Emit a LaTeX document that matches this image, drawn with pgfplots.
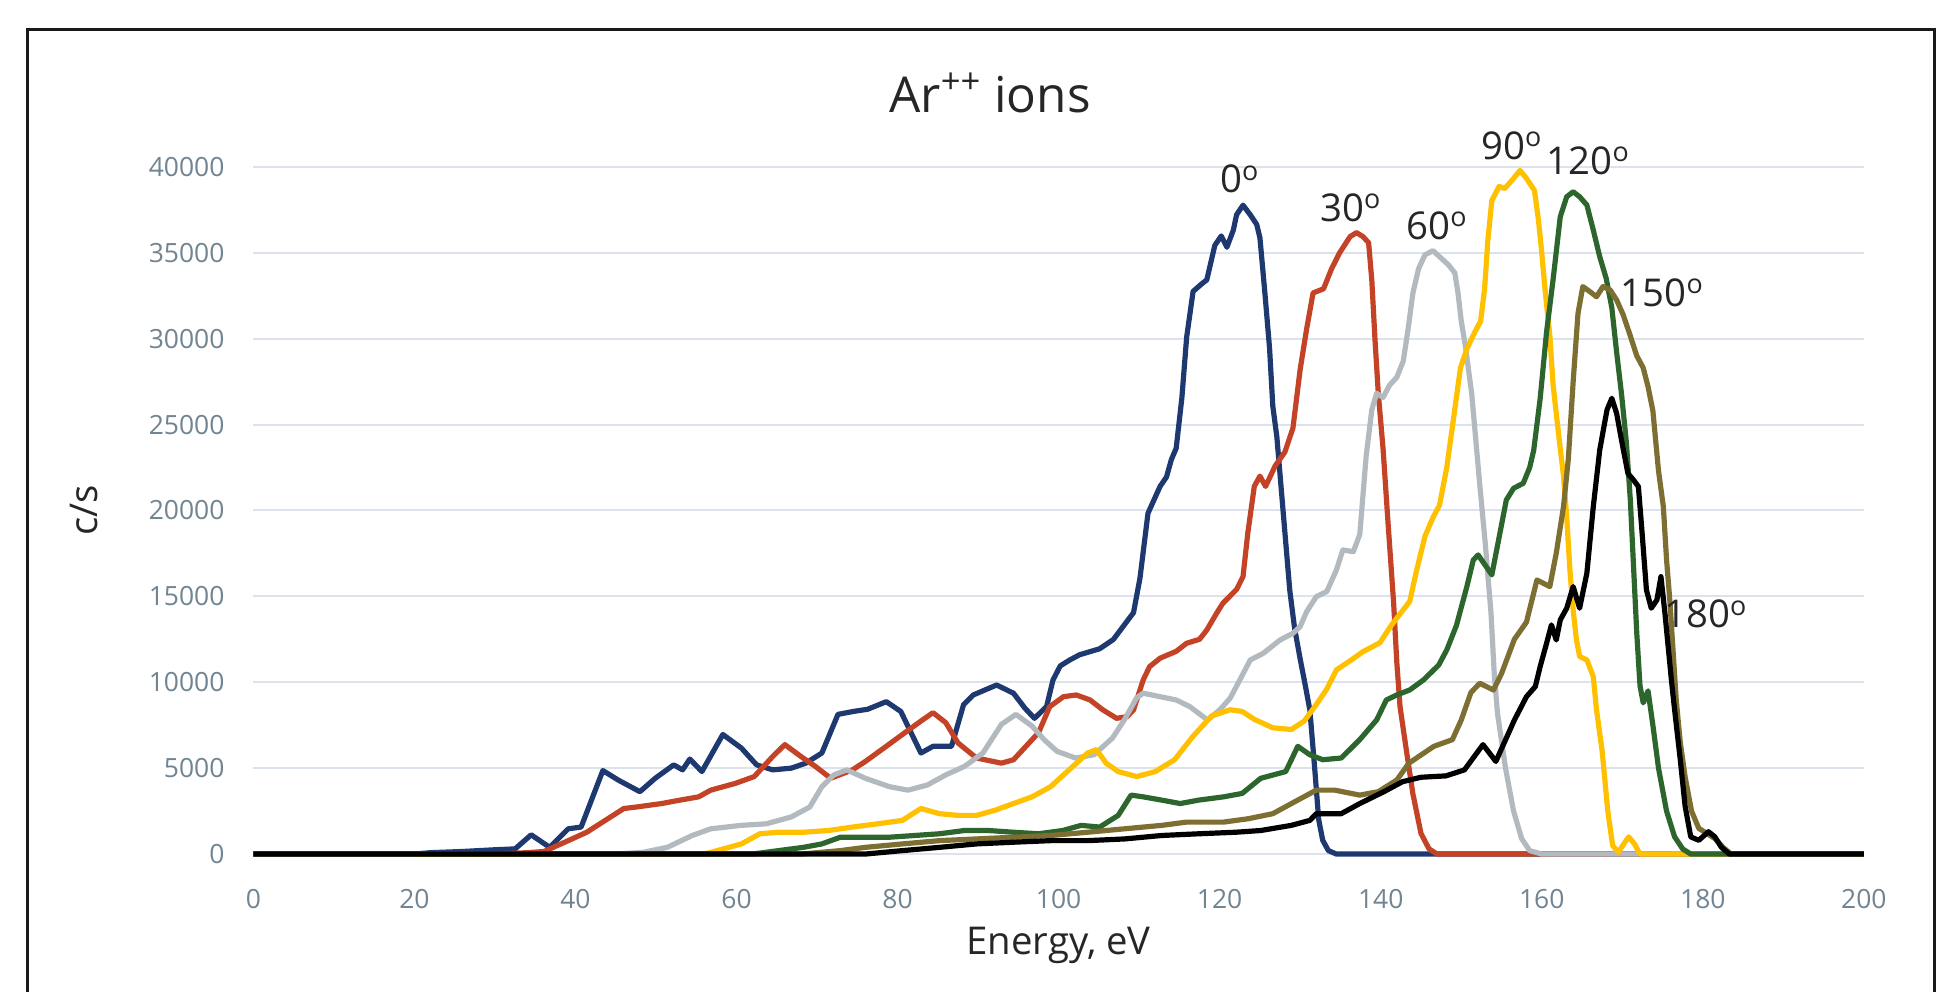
\documentclass[border=0pt]{standalone}
\usepackage{fontspec}
\setmainfont{Open Sans}
\usepackage{pgfplots}
\pgfplotsset{compat=1.18}
\definecolor{cblue}{RGB}{30,56,112}
\definecolor{cred}{RGB}{196,66,38}
\definecolor{cgray}{RGB}{178,186,192}
\definecolor{cyellow}{RGB}{255,192,0}
\definecolor{cgreen}{RGB}{45,102,45}
\definecolor{colive}{RGB}{125,110,50}
\definecolor{gridc}{RGB}{220,227,236}
\definecolor{tickc}{RGB}{112,132,146}
\definecolor{txtc}{RGB}{38,38,38}
\begin{document}
\begin{tikzpicture}[x=1pt,y=1pt]
\useasboundingbox (-102.5,-55.5) rectangle (681.5,345.5);
\fill[white] (-102.5,-55.5) rectangle (681.5,345.5);
\draw[line width=1.2pt, black!90] (-91.2,-60) -- (-91.2,333.7) -- (680,333.7) -- (680,-60);
\node[font=\fontsize{20}{24}\selectfont, text=txtc] at (298,308) {Ar\textsuperscript{++} ions};
\begin{axis}[
  at={(0,0)}, anchor=south west,
  width=651.5pt, height=278pt, scale only axis,
  xmin=0, xmax=200, ymin=0, ymax=40000,
  xtick={0,20,...,200}, ytick={0,5000,...,40000},
  scaled y ticks=false,
  axis line style={draw=none},
  major tick length=0pt,
  ymajorgrids, grid style={color=gridc, line width=0.8pt},
  /pgf/number format/assume math mode=true,
  /pgf/number format/1000 sep={},
  tick label style={font=\fontsize{10.7}{12}\selectfont, text=tickc, inner sep=0pt},
  yticklabel style={anchor=east, xshift=-11.5pt},
  xticklabel style={anchor=north, yshift=-14pt},
  xlabel={Energy, eV},
  xlabel style={font=\fontsize{15.5}{18}\selectfont, text=txtc, at={(axis description cs:0.5,0)}, anchor=center, yshift=-37pt},
  clip=false,
  every axis plot/.append style={line width=2.1pt, line join=round, mark=none},
]
% 0 deg
\addplot[cblue] coordinates {(0,0) (20,0) (22,80) (26,150) (30,250) (32.5,300) (34.5,1120) (36.8,390) (39.1,1470) (40.7,1570) (43.4,4860) (45.3,4310) (48.0,3630) (49.9,4410) (52.2,5190) (53.3,4900) (54.2,5530) (55.7,4800) (58.3,6960) (60.6,6170) (62.5,5190) (64.5,4900) (66.8,5000) (68.6,5290) (70.6,5880) (72.6,8130) (74.5,8300) (76.3,8430) (78.6,8870) (80.4,8300) (82.9,5880) (84.4,6270) (86.7,6270) (88.2,8700) (89.4,9260) (92.3,9840) (94.4,9360) (95.8,8500) (97.0,7900) (98.5,8580) (99.3,10130) (100.2,10950) (101.4,11300) (102.6,11600) (105.1,11950) (106.8,12490) (108.4,13490) (109.3,14050) (110.1,16050) (111.1,19840) (112.6,21400) (113.4,21950) (114.0,22960) (114.6,23620) (115.3,26520) (115.9,30080) (116.7,32750) (117.8,33200) (118.4,33420) (119.4,35430) (120.2,35980) (120.9,35320) (121.7,36320) (122.1,37210) (122.9,37770) (123.8,37210) (124.6,36650) (125.0,35870) (125.6,32750) (126.2,29420) (126.6,26070) (127.1,24290) (127.5,22070) (128.1,18730) (128.7,15380) (129.3,13160) (130.0,11350) (130.6,9900) (131.2,8390) (131.8,5000) (132.3,2000) (132.8,800) (133.5,200) (134.5,0) (200,0)};
% 30 deg
\addplot[cred] coordinates {(0,0) (30,0) (34,80) (36.1,150) (39.1,780) (41.4,1270) (43.7,1960) (46.0,2650) (47.6,2740) (50.7,2940) (53.0,3140) (55.3,3330) (56.8,3720) (59.9,4120) (62.2,4510) (64.5,5680) (66.0,6370) (68.0,5680) (69.8,5100) (71.7,4410) (74.4,4900) (76.0,5390) (78.3,6170) (80.6,6960) (82.9,7740) (84.4,8230) (86.0,7640) (87.5,6470) (89.8,5590) (92.9,5290) (94.4,5490) (97.5,7060) (98.9,8580) (100.6,9160) (102.2,9260) (103.9,8970) (105.5,8390) (107.2,7900) (108.5,8000) (109.3,8390) (110.5,10130) (111.3,10910) (112.6,11400) (114.6,11800) (115.9,12270) (117.5,12500) (118.4,13040) (119.6,14000) (120.4,14600) (122.1,15400) (122.9,16150) (123.5,18700) (124.3,21400) (125.0,22000) (125.7,21400) (126.9,22600) (128.1,23400) (129.1,24800) (130.0,28220) (130.8,30560) (131.6,32660) (132.9,32900) (133.9,34070) (134.9,35000) (136.2,35940) (137.0,36170) (137.8,35940) (138.5,35580) (138.9,33360) (139.3,29860) (139.7,26820) (140.3,23550) (140.9,19340) (141.6,14660) (142.0,11150) (142.4,8580) (143.2,6000) (144.0,3500) (145.0,1200) (146.0,300) (147.0,0) (200,0)};
% 60 deg
\addplot[cgray] coordinates {(0,0) (45,0) (48.4,100) (51.4,390) (54.5,1080) (56.8,1470) (60.6,1670) (63.7,1760) (66.8,2160) (69.1,2740) (70.6,3920) (72.1,4610) (73.7,4900) (76.0,4410) (79.0,3920) (81.3,3720) (83.7,4020) (86.0,4610) (88.3,5100) (90.6,5880) (92.9,7550) (94.7,8130) (96.7,7450) (98.2,6660) (99.8,5980) (102.1,5590) (104.4,5780) (106.7,6760) (108.2,7840) (109.7,9100) (110.5,9360) (112.6,9160) (114.6,8970) (116.3,8580) (118.5,7800) (120.0,8390) (121.3,9070) (122.5,10130) (123.8,11300) (125.4,11680) (127.5,12460) (129.1,12850) (130.0,13240) (130.8,14110) (132.0,14980) (133.3,15280) (134.5,16540) (135.3,17700) (136.6,17600) (137.4,18600) (138.2,23200) (138.9,25880) (139.5,26820) (140.3,26580) (141.1,27290) (142.0,27750) (142.8,28690) (143.4,30560) (144.0,32660) (144.7,34070) (145.5,34880) (146.5,35120) (147.3,34770) (148.4,34300) (149.2,33830) (149.6,32660) (150.0,31030) (150.5,29620) (151.3,26800) (152.3,21500) (153.0,18000) (153.7,14000) (154.1,10500) (154.5,8200) (155.5,5000) (156.5,2500) (157.5,900) (158.5,200) (160,0) (200,0)};
% 90 deg
\addplot[cyellow] coordinates {(0,0) (56,0) (57.6,200) (60.6,590) (62.9,1180) (65.2,1270) (68.3,1270) (71.4,1370) (74.4,1570) (77.5,1760) (80.6,1960) (82.9,2650) (85.2,2350) (87.5,2250) (89.8,2250) (92.1,2550) (94.4,2940) (96.7,3330) (99.0,3920) (101.3,4900) (103.6,5880) (104.7,6080) (105.9,5290) (107.4,4800) (109.7,4510) (112.0,4800) (114.4,5490) (116.7,6860) (119.0,8040) (121.3,8400) (122.8,8300) (124.3,7840) (126.6,7350) (128.9,7250) (130.5,7740) (132.0,8700) (133.3,9600) (134.5,10720) (136.2,11250) (137.8,11780) (139.9,12300) (141.3,13300) (142.6,14100) (143.6,14700) (144.4,16400) (145.5,18500) (146.5,19600) (147.3,20300) (148.2,22500) (149.0,25200) (149.9,28300) (150.7,29400) (151.7,30400) (152.4,31000) (152.9,32900) (153.3,35700) (153.8,38040) (154.7,38860) (155.4,38740) (156.3,39210) (157.3,39790) (158.1,39330) (159.1,38620) (159.6,36870) (160.0,35000) (160.4,32900) (161.0,30200) (161.4,27350) (162.1,24400) (162.7,22000) (163.1,19600) (163.5,16500) (163.9,14200) (164.3,12500) (164.7,11500) (165.6,11300) (166.4,10330) (166.8,8390) (167.5,6000) (168.2,2500) (168.8,500) (169.5,100) (170.2,600) (170.8,1000) (171.5,600) (172.2,0) (200,0)};
% 120 deg
\addplot[cgreen] coordinates {(0,0) (62,0) (65.2,200) (68.3,390) (70.6,590) (72.9,980) (76.0,980) (79.0,980) (82.1,1080) (85.2,1180) (88.3,1370) (91.3,1370) (94.4,1270) (97.5,1180) (100.5,1370) (102.8,1670) (105.1,1570) (107.4,2250) (109.0,3430) (110.5,3330) (112.8,3140) (115.1,2940) (117.4,3140) (120.5,3330) (122.8,3530) (125.1,4410) (128.2,4800) (129.7,6270) (131.2,5780) (132.8,5490) (135.1,5590) (137.4,6660) (139.5,7810) (140.7,8970) (142.0,9260) (143.6,9550) (145.3,10130) (147.2,11000) (148.2,11880) (149.4,13300) (150.7,15570) (151.5,17120) (152.1,17410) (153.1,16730) (153.8,16250) (154.4,17700) (155.6,20610) (156.5,21290) (157.7,21580) (158.5,22500) (159.0,23500) (159.8,26500) (160.6,30400) (161.4,33410) (162.3,37100) (163.1,38260) (163.9,38550) (164.7,38260) (165.6,37780) (166.4,36320) (167.2,34770) (168.0,33510) (168.7,31800) (169.3,29200) (169.9,26800) (170.5,24000) (171.0,20610) (171.4,16730) (171.8,12850) (172.2,9800) (172.6,8800) (173.2,9500) (173.8,7500) (174.5,5000) (175.5,2500) (176.5,1000) (177.5,300) (178.5,0) (200,0)};
% 150 deg
\addplot[colive] coordinates {(0,0) (68,0) (72.9,200) (76.0,390) (80.6,590) (85.2,780) (89.8,880) (94.4,980) (99.0,1080) (103.6,1270) (108.2,1470) (112.8,1670) (115.9,1860) (120.5,1860) (123.6,2060) (126.6,2350) (129.7,3140) (132.0,3720) (134.3,3720) (137.4,3430) (139.7,3630) (142.0,4310) (143.5,5290) (146.6,6270) (148.9,6660) (150.0,7800) (151.2,9400) (152.3,9940) (154.0,9550) (155.0,10500) (156.6,12500) (158.1,13500) (159.4,15950) (160.2,15760) (161.0,15570) (161.8,17510) (162.7,20220) (163.3,23000) (163.9,27500) (164.5,31470) (165.1,33030) (166.0,32730) (166.8,32440) (167.6,33030) (168.5,32830) (169.3,32250) (170.1,31400) (170.9,30300) (171.8,29000) (172.6,28300) (173.2,27200) (173.8,25800) (174.5,22300) (175.1,20220) (175.5,17120) (175.9,14790) (176.3,11880) (176.7,8970) (177.2,6500) (177.8,4500) (178.6,2500) (179.5,1500) (180.5,1200) (181.5,900) (182.5,400) (183.5,0) (200,0)};
% 180 deg
\addplot[black] coordinates {(0,0) (76,0) (78.3,100) (80.6,200) (85.2,390) (89.8,590) (94.4,690) (99.0,780) (103.6,780) (108.2,880) (112.8,1080) (117.4,1180) (122.0,1270) (125.1,1370) (128.9,1670) (131.2,1960) (132.0,2350) (135.1,2350) (137.4,2940) (140.4,3630) (142.7,4210) (145.0,4470) (148.1,4550) (150.4,4900) (152.7,6370) (154.3,5390) (156.6,7800) (158.1,9160) (159.2,9750) (159.8,10910) (160.6,12270) (161.2,13340) (161.8,12460) (162.3,13630) (163.1,14310) (163.9,15570) (164.7,14310) (165.6,16340) (166.4,20220) (167.2,23520) (168.1,25850) (168.7,26530) (169.3,25650) (169.9,24100) (170.7,22160) (171.4,21770) (172.0,21390) (172.4,19060) (173.0,15370) (173.6,14310) (174.3,14790) (174.8,16150) (175.3,14010) (175.7,12070) (176.1,10130) (176.5,8390) (177.2,5500) (177.8,2800) (178.5,1000) (179.5,800) (180.7,1300) (181.5,1000) (182.3,400) (183.3,0) (200,0)};
\begin{scope}[every node/.style={font=\fontsize{15.5}{18}\selectfont, text=txtc, inner sep=0pt}]
\node at (axis cs:122.5,39280) {0\textsuperscript{o}};
\node at (axis cs:136.3,37620) {30\textsuperscript{o}};
\node at (axis cs:147.0,36550) {60\textsuperscript{o}};
\node at (axis cs:156.3,41220) {90\textsuperscript{o}};
\node at (axis cs:165.8,40360) {120\textsuperscript{o}};
\node at (axis cs:175.0,32660) {150\textsuperscript{o}};
\node at (axis cs:180.4,13960) {180\textsuperscript{o}};
\end{scope}
\node[font=\fontsize{15.5}{18}\selectfont, text=txtc, rotate=90] at (axis cs:-21,20000) {c/s};
\end{axis}
\end{tikzpicture}
\end{document}
